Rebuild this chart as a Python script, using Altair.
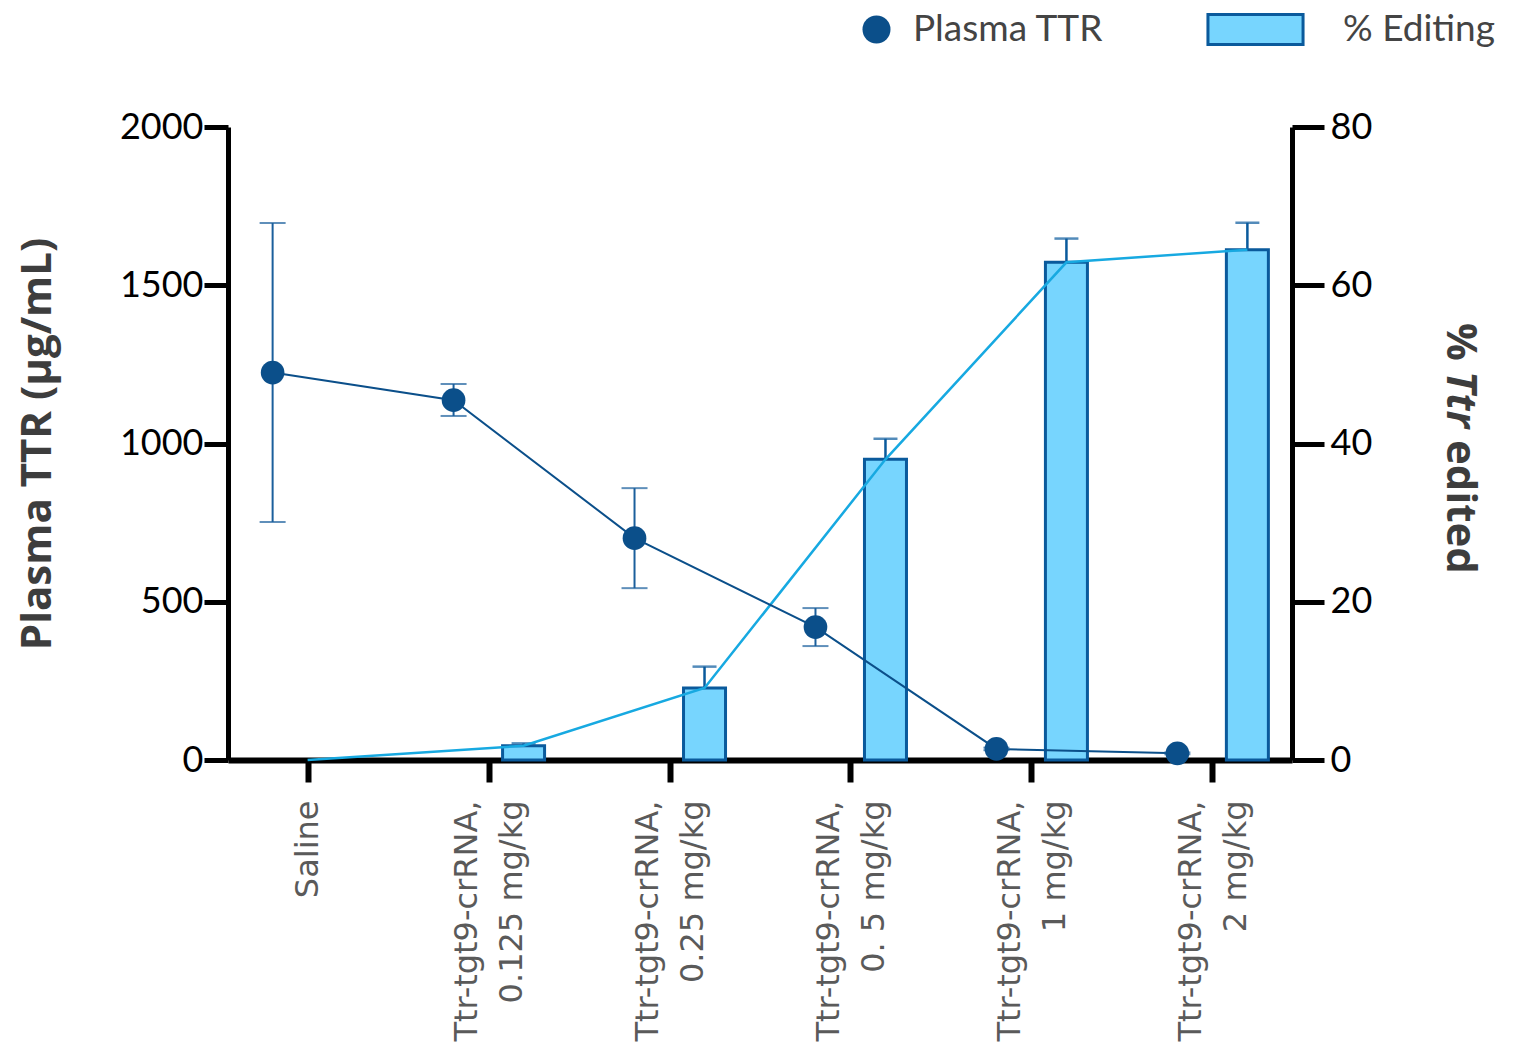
import altair as alt
import pandas as pd

# Treatment groups (axis labels use "\n" for the line break)
groups = [
    "Saline",
    "Ttr-tgt9-crRNA,\n0.125 mg/kg",
    "Ttr-tgt9-crRNA,\n0.25 mg/kg",
    "Ttr-tgt9-crRNA,\n0. 5 mg/kg",
    "Ttr-tgt9-crRNA,\n1 mg/kg",
    "Ttr-tgt9-crRNA,\n2 mg/kg",
]

# Plasma TTR (µg/mL): mean with lower / upper error limits
ttr_mean = [1224, 1137, 701, 420, 35, 21]
ttr_low = [752, 1087, 543, 360, 31, 18]
ttr_high = [1697, 1188, 859, 480, 39, 24]

# % Ttr edited: mean and upper error limit
edit_mean = [0.0, 1.8, 9.1, 38.0, 62.9, 64.5]
edit_high = [0.0, 2.1, 11.8, 40.6, 65.9, 67.9]

ttr_ticks = [0, 500, 1000, 1500, 2000]
edit_ticks = [0, 20, 40, 60, 80]
right_title_parts = ["%", "Ttr", "edited"]

DARK = "#0b4f8a"
ERR_DARK = "#1b5f9c"
BAR_FILL = "#77d5fe"
BAR_STROKE = "#0a5a9c"
EDIT_LINE = "#17a9e1"
LABEL_FONT = "Lato"
CAT_FONT = "DejaVu Sans"
TITLE_FONT = "Open Sans"

df = pd.DataFrame({
    "group": groups,
    "ttr": ttr_mean,
    "ttr_lo": ttr_low,
    "ttr_hi": ttr_high,
    "edit": edit_mean,
    "edit_hi": edit_high,
})

base = alt.Chart(df)

x_enc = alt.X(
    "group:N",
    sort=groups,
    scale=alt.Scale(type="point", padding=0.44),
    axis=alt.Axis(
        title=None,
        labelExpr="split(datum.value, '\\n')",
        labelAngle=-90,
        labelFont=CAT_FONT,
        labelFontSize=32,
        labelColor="#5a5a5a",
        labelLineHeight=45,
        labelPadding=18,
        labelLimit=0,
        # centre the two-line labels on their tick
        labelOffset={"condition": {"test": "indexof(datum.value, '\\n') >= 0", "value": -22}, "value": 0},
        tickSize=22,
        tickWidth=6,
        tickColor="black",
        domainWidth=6,
        domainColor="black",
        grid=False,
    ),
)

y_left_axis = alt.Axis(
    orient="left",
    values=ttr_ticks,
    format="d",
    title="Plasma TTR (µg/mL)",
    titleFont=TITLE_FONT,
    titleFontWeight="bold",
    titleFontSize=42,
    titleColor="#3d3d3d",
    titlePadding=60,
    labelFont=LABEL_FONT,
    labelFontSize=36,
    labelColor="black",
    labelPadding=1,
    tickSize=24,
    tickWidth=5,
    tickColor="black",
    domainWidth=5,
    domainColor="black",
    grid=False,
)

y_right_axis = alt.Axis(
    orient="right",
    values=edit_ticks,
    format="d",
    title=None,
    labelFont=LABEL_FONT,
    labelFontSize=36,
    labelColor="black",
    labelPadding=6,
    tickSize=32,
    tickWidth=5,
    tickColor="black",
    domainWidth=5,
    domainColor="black",
    grid=False,
)

y_ttr = alt.Y("ttr:Q", scale=alt.Scale(domain=[0, 2000], nice=False), axis=y_left_axis)
y_edit = alt.Y("edit:Q", scale=alt.Scale(domain=[0, 80], nice=False), axis=y_right_axis)

# ---- % editing: bars, upward error bars, connecting line ----
bars = base.mark_bar(size=42, xOffset=35, stroke=BAR_STROKE, strokeWidth=3).encode(
    x=x_enc,
    y=y_edit,
    fill=alt.Fill(
        "series:N",
        scale=alt.Scale(domain=["% Editing"], range=[BAR_FILL]),
        legend=alt.Legend(
            title=None,
            orient="none",
            legendX=1009,
            legendY=-116,
            padding=0,
            symbolType="M-3.17,-1H3.17V1H-3.17Z",
            symbolSize=900,
            symbolStrokeColor=BAR_STROKE,
            symbolStrokeWidth=3,
            labelFont=LABEL_FONT,
            labelFontSize=37,
            labelColor="#444444",
            labelOffset=69,
            labelLimit=0,
        ),
    ),
).transform_calculate(series="'% Editing'").transform_filter("datum.edit > 0")

edit_err = base.transform_filter("datum.edit_hi > datum.edit").mark_rule(
    xOffset=35, color=BAR_STROKE, strokeWidth=2.5
).encode(x=x_enc, y=y_edit, y2="edit_hi:Q")

edit_cap = base.transform_filter("datum.edit_hi > datum.edit").mark_tick(
    xOffset=35, color=BAR_STROKE, size=24, thickness=2.5
).encode(x=x_enc, y=alt.Y("edit_hi:Q", scale=alt.Scale(domain=[0, 80], nice=False), axis=y_right_axis))

# The saline point sits on its tick; treated groups connect at their bar centres
edit_line = base.transform_calculate(
    off="datum.group == 'Saline' ? 0 : 35"
).mark_line(color=EDIT_LINE, strokeWidth=2.5).encode(
    x=x_enc,
    xOffset=alt.XOffset("off:Q", scale=None),
    y=y_edit,
)

title_df = pd.DataFrame({"t": right_title_parts})
title_common = dict(angle=90, align="left", baseline="middle", font=TITLE_FONT,
                    fontSize=42, fontWeight="bold", color="#3d3d3d")
t_pct = alt.Chart(title_df).transform_filter("datum.t == '%'").mark_text(**title_common).encode(
    text="t:N", x=alt.value(1232), y=alt.value(196))
t_gene = alt.Chart(title_df).transform_filter("datum.t == 'Ttr'").mark_text(
    fontStyle="italic", **title_common).encode(text="t:N", x=alt.value(1232), y=alt.value(244))
t_rest = alt.Chart(title_df).transform_filter("datum.t == 'edited'").mark_text(**title_common).encode(
    text="t:N", x=alt.value(1232), y=alt.value(313))

right = alt.layer(bars, edit_err, edit_cap, edit_line, t_pct, t_gene, t_rest)

# ---- Plasma TTR: line, error bars, points ----
ttr_line = base.mark_line(xOffset=-35, color=DARK, strokeWidth=2).encode(x=x_enc, y=y_ttr)

ttr_err = base.mark_rule(xOffset=-35, color=ERR_DARK, strokeWidth=2).encode(
    x=x_enc,
    y=alt.Y("ttr_lo:Q", scale=alt.Scale(domain=[0, 2000], nice=False), axis=y_left_axis),
    y2="ttr_hi:Q",
)
ttr_cap_lo = base.mark_tick(xOffset=-35, color=ERR_DARK, size=26, thickness=2).encode(
    x=x_enc, y=alt.Y("ttr_lo:Q", scale=alt.Scale(domain=[0, 2000], nice=False), axis=y_left_axis))
ttr_cap_hi = base.mark_tick(xOffset=-35, color=ERR_DARK, size=26, thickness=2).encode(
    x=x_enc, y=alt.Y("ttr_hi:Q", scale=alt.Scale(domain=[0, 2000], nice=False), axis=y_left_axis))

ttr_pts = base.mark_circle(xOffset=-35, size=560, opacity=1).encode(
    x=x_enc,
    y=y_ttr,
    color=alt.Color(
        "series:N",
        scale=alt.Scale(domain=["Plasma TTR"], range=[DARK]),
        legend=alt.Legend(
            title=None,
            orient="none",
            legendX=630,
            legendY=-116,
            padding=0,
            symbolType="circle",
            symbolSize=784,
            symbolStrokeWidth=0,
            labelFont=LABEL_FONT,
            labelFontSize=37,
            labelColor="#444444",
            labelOffset=18,
            labelLimit=0,
        ),
    ),
).transform_calculate(series="'Plasma TTR'")

left = alt.layer(ttr_line, ttr_err, ttr_cap_lo, ttr_cap_hi, ttr_pts)

chart = (
    alt.layer(right, left)
    .resolve_scale(y="independent", color="independent", fill="independent")
    .properties(
        width=1064,
        height=633,
        autosize=alt.AutoSizeParams(type="none"),
        padding={"left": 228, "top": 127, "right": 234, "bottom": 299},
        background="white",
    )
    .configure_view(stroke=None)
)

chart.save("out.html", embed_options={"renderer": "svg", "actions": False})
